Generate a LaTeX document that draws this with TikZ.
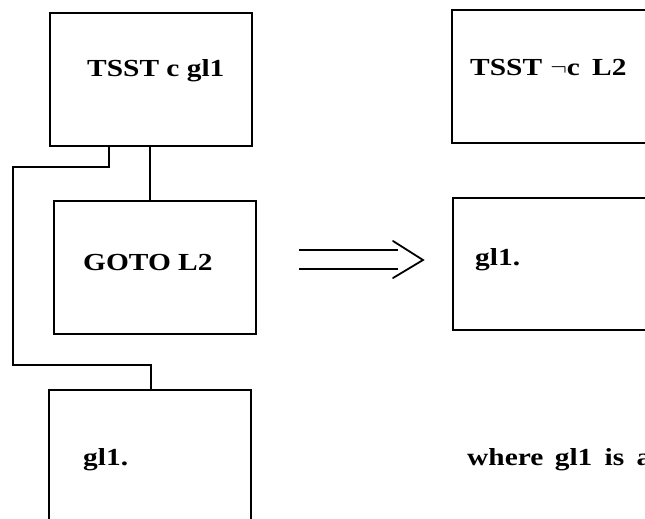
\documentclass[tikz,border=0pt]{standalone}
\usepackage{fontspec}
\setmainfont{Liberation Serif}[FakeStretch=1.2]
\begin{document}
\begin{tikzpicture}[x=1pt,y=-1pt,
  boxshape/.style={draw, line width=1.8pt, rectangle, inner sep=0pt},
  lbl/.style={font=\fontsize{24.5}{28}\selectfont\bfseries, inner sep=0pt, anchor=base west},
  conn/.style={line width=1.8pt, line join=miter}]
\useasboundingbox (0,0) rectangle (645,519);
\clip (0,0) rectangle (645,519);
% left column
\node[boxshape, minimum width=202pt, minimum height=133pt] (b1) at (151,79.5) {};
\node[boxshape, minimum width=202pt, minimum height=133pt] (b2) at (155,267.5) {};
\node[boxshape, minimum width=202pt, minimum height=160pt] (b3) at (150,470) {};
% right column (running past the right edge)
\node[boxshape, minimum width=260pt, minimum height=133pt] (b4) at (582,76.5) {};
\node[boxshape, minimum width=260pt, minimum height=132pt] (b5) at (583,264) {};
% labels
\node[lbl] (t1) at (87,77) {TSST c gl1};
\node[lbl] (t2) at (83,270) {GOTO L2};
\node[lbl] (t3) at (83,465) {gl1.};
\node[lbl] (t4) at (470,76) {TSST\,\,$\neg$c\enspace L2};
\node[lbl] (t5) at (475,265) {gl1.};
\node[lbl] (t6) at (467,465) {where\, gl1\enspace is\enspace a};
% connectors
\coordinate (c1) at (150,0);
\coordinate (e1) at (109,0);
\coordinate (e3) at (151,0);
\draw[conn] (b1.south -| c1) -- (b2.north -| c1);
\draw[conn] (b1.south -| e1) -- ++(0,20) -- ++(-96,0) -- ++(0,198) -- ++(138,0) -- (b3.north -| e3);
% double arrow
\coordinate (a1) at (299,250);
\coordinate (a2) at (398,250);
\coordinate (a3) at (299,269);
\coordinate (a4) at (398,269);
\coordinate (h1) at (393,241);
\coordinate (tip) at (423,260);
\coordinate (h2) at (393,278);
\draw[conn] (a1) -- (a2);
\draw[conn] (a3) -- (a4);
\draw[conn, line cap=round] (h1) -- (tip) -- (h2);
\end{tikzpicture}
\end{document}
